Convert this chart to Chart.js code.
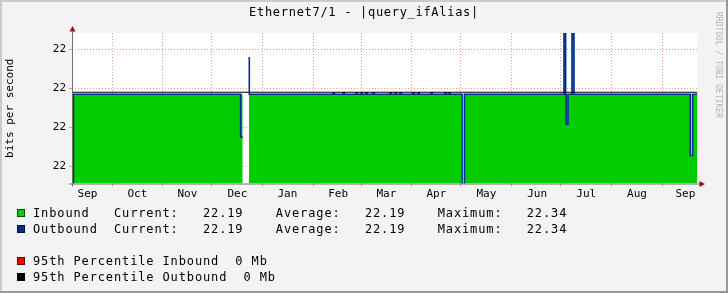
<!DOCTYPE html>
<html>
<head>
<meta charset="utf-8">
<script src="https://cdn.jsdelivr.net/npm/chart.js@4.4.1/dist/chart.umd.min.js"></script>
<style>
  html, body { margin: 0; padding: 0; background: #f3f3f3; }
  #graph { display: block; }
</style>
</head>
<body>
<canvas id="graph" width="728" height="293"></canvas>
<script>
// Eje X en días contados desde el 1 de septiembre
const xMin = 5.56;
const xMax = 387.4;
const monthStarts = [30, 61, 91, 122, 153, 182, 213, 243, 274, 304, 335, 366];
const monthMids = [15, 45.5, 76, 106.5, 137, 168, 197.5, 228, 258.5, 289.5, 319.5, 350.5, 380];
const monthLabels = ['Sep', 'Oct', 'Nov', 'Dec', 'Jan', 'Feb', 'Mar', 'Apr', 'May', 'Jun', 'Jul', 'Aug', 'Sep'];

// Eje Y
const yMin = 21.956;
const yMax = 22.342;
const yTicks = [22.0, 22.1, 22.2, 22.3];
const yTickLabels = ['22', '22', '22', '22'];

// Inbound (área verde)
const inDays = [6.5, 109.77, 109.8, 113.6, 243.3, 245.4, 305.9, 306.9, 307.2, 308.3, 310.8, 312.0, 383.0, 384.4, 387.4];
const inBits = [22.185, 22.185, null, 22.185, 21.9, 22.185, 22.35, 22.185, 22.108, 22.185, 22.35, 22.185, 22.028, 22.185, 22.185];

// Outbound (línea azul)
const outDays = [6.2, 6.4, 108.55, 109.77, 109.8, 113.2, 113.8,
  164.9, 165.7, 171.0, 171.8, 178.9, 179.7, 182.0, 182.8, 185.0, 185.8, 189.3, 190.1,
  199.7, 200.5, 202.8, 203.6, 205.8, 206.6, 213.7, 214.5, 216.8, 217.6, 224.7, 225.5,
  233.3, 234.1, 235.7, 236.5,
  243.7, 245.1, 305.9, 306.9, 307.2, 308.3, 310.8, 312.0, 383.0, 384.4, 387.4];
const outBits = [21.9, 22.185, 22.075, 22.075, null, 22.278, 22.185,
  22.188, 22.185, 22.188, 22.185, 22.188, 22.185, 22.188, 22.185, 22.188, 22.185, 22.188, 22.185,
  22.188, 22.185, 22.188, 22.185, 22.188, 22.185, 22.188, 22.185, 22.188, 22.185, 22.188, 22.185,
  22.188, 22.185, 22.188, 22.185,
  21.9, 22.185, 22.35, 22.185, 22.108, 22.185, 22.35, 22.185, 22.028, 22.185, 22.185];

// Línea negra del percentil 95
const p95Days = [xMin, xMax];
const p95Bits = [22.19, 22.19];

// Leyenda
const seriesNames = ['Inbound', 'Outbound'];
const seriesColors = ['#00cf00', '#002a97'];
const currentVals = [22.19, 22.19];
const averageVals = [22.19, 22.19];
const maximumVals = [22.34, 22.34];
const pctNames = ['95th Percentile Inbound', '95th Percentile Outbound'];
const pctColors = ['#ff0000', '#000000'];
const pctVals = ['0 Mb', '0 Mb'];

const titleText = 'Ethernet7/1 - |query_ifAlias|';
const gridColor = 'rgba(225,90,90,0.6)';
const mono = '"DejaVu Sans Mono", monospace';

function puntos(xs, ys) {
  return xs.map((x, i) => ({ x: x, y: ys[i] }));
}

const marco = {
  id: 'marco',
  beforeDraw(chart) {
    const c = chart.ctx;
    const a = chart.chartArea;
    c.save();
    c.fillStyle = '#f3f3f3';
    c.fillRect(0, 0, chart.width, chart.height);
    c.fillStyle = '#ffffff';
    c.fillRect(a.left, a.top, a.right - a.left, a.bottom - a.top);
    c.restore();
  },
  afterDraw(chart) {
    const c = chart.ctx;
    const a = chart.chartArea;
    c.save();
    // ejes con flechas
    c.strokeStyle = '#707070';
    c.lineWidth = 1;
    c.beginPath();
    c.moveTo(72.5, a.bottom + 3);
    c.lineTo(72.5, 29);
    c.moveTo(69, a.bottom + 0.5);
    c.lineTo(701, a.bottom + 0.5);
    c.stroke();
    c.fillStyle = '#a01010';
    c.beginPath();
    c.moveTo(69.5, 31.5); c.lineTo(75.5, 31.5); c.lineTo(72.5, 26); c.closePath();
    c.fill();
    c.beginPath();
    c.moveTo(699.5, a.bottom - 2.5); c.lineTo(699.5, a.bottom + 3.5); c.lineTo(705, a.bottom + 0.5); c.closePath();
    c.fill();

    // título
    c.fillStyle = '#000';
    c.font = '12px ' + mono;
    c.letterSpacing = '0.7px';
    c.textAlign = 'center';
    c.textBaseline = 'middle';
    c.fillText(titleText, 364, 13);

    // leyenda
    c.textAlign = 'left';
    c.letterSpacing = '0.87px';
    const filas = [];
    seriesNames.forEach((n, i) => {
      filas.push({
        color: seriesColors[i],
        text: n.padEnd(10) + 'Current:   ' + currentVals[i].toFixed(2).padEnd(9) +
          'Average:   ' + averageVals[i].toFixed(2).padEnd(9) + 'Maximum:   ' + maximumVals[i].toFixed(2)
      });
    });
    filas.push(null);
    pctNames.forEach((n, i) => filas.push({ color: pctColors[i], text: n + '  ' + pctVals[i] }));
    const ys = [213, 229, 245, 261, 277];
    filas.forEach((f, i) => {
      if (!f) return;
      const y = ys[i];
      c.fillStyle = f.color;
      c.fillRect(17, y - 4, 8, 8);
      c.strokeStyle = 'rgba(0,0,0,0.6)';
      c.strokeRect(17.5, y - 3.5, 7, 7);
      c.fillStyle = '#000';
      c.fillText(f.text, 33, y + 0.5);
    });

    // marca de agua
    c.letterSpacing = '0px';
    c.font = '8px ' + mono;
    c.fillStyle = '#b4b4b4';
    c.translate(715, 12);
    c.rotate(Math.PI / 2);
    c.textBaseline = 'middle';
    c.fillText('RRDTOOL / TOBI OETIKER', 0, -3);
    c.restore();

    // marco 3D
    c.save();
    c.fillStyle = '#cbcbcb';
    c.fillRect(0, 0, chart.width, 2);
    c.fillRect(0, 0, 2, chart.height);
    c.fillStyle = '#999999';
    c.fillRect(0, chart.height - 2, chart.width, 2);
    c.fillRect(chart.width - 2, 0, 2, chart.height);
    c.restore();
  }
};

new Chart(document.getElementById('graph').getContext('2d'), {
  type: 'line',
  data: {
    datasets: [
      {
        label: 'p95',
        data: puntos(p95Days, p95Bits),
        borderColor: '#000000',
        borderWidth: 1.2,
        pointRadius: 0,
        fill: false,
        order: 0
      },
      {
        label: 'Outbound',
        data: puntos(outDays, outBits),
        borderColor: '#002a97',
        borderWidth: 1.6,
        pointRadius: 0,
        stepped: 'before',
        fill: false,
        order: 1
      },
      {
        label: 'Inbound',
        data: puntos(inDays, inBits),
        borderColor: 'rgba(0,0,0,0)',
        borderWidth: 0,
        backgroundColor: '#00cc00',
        pointRadius: 0,
        stepped: 'before',
        fill: 'start',
        order: 2
      }
    ]
  },
  options: {
    responsive: false,
    animation: false,
    devicePixelRatio: 1,
    layout: { padding: { left: 0, right: 30.5, top: 33, bottom: 0 } },
    plugins: { legend: { display: false }, tooltip: { enabled: false } },
    scales: {
      x: {
        type: 'linear',
        min: xMin,
        max: xMax,
        afterFit: s => { s.height = 109.5; },
        afterBuildTicks: s => {
          s.ticks = monthStarts.concat(monthMids).sort((a, b) => a - b).map(v => ({ value: v }));
        },
        border: { display: false, dash: [1, 2] },
        grid: {
          color: ctx => (ctx.tick && monthStarts.includes(ctx.tick.value)) ? gridColor : 'rgba(0,0,0,0)',
          tickLength: 3,
          lineWidth: 1
        },
        ticks: {
          autoSkip: false,
          maxRotation: 0,
          padding: 1,
          color: '#000',
          font: { family: mono, size: 11 },
          callback: v => {
            const i = monthMids.indexOf(v);
            return i >= 0 ? monthLabels[i] : '';
          }
        }
      },
      y: {
        min: yMin,
        max: yMax,
        afterFit: s => { s.width = 72; },
        afterBuildTicks: s => { s.ticks = yTicks.map(v => ({ value: v })); },
        border: { display: false, dash: [1, 2] },
        grid: { color: gridColor, tickLength: 3 },
        ticks: {
          padding: 3,
          color: '#000',
          font: { family: mono, size: 11 },
          callback: (v, i) => yTickLabels[i]
        },
        title: {
          display: true,
          text: 'bits per second',
          color: '#000',
          font: { family: mono, size: 11 },
          padding: { top: 4, bottom: 0 }
        }
      }
    }
  },
  plugins: [marco]
});
</script>
</body>
</html>
